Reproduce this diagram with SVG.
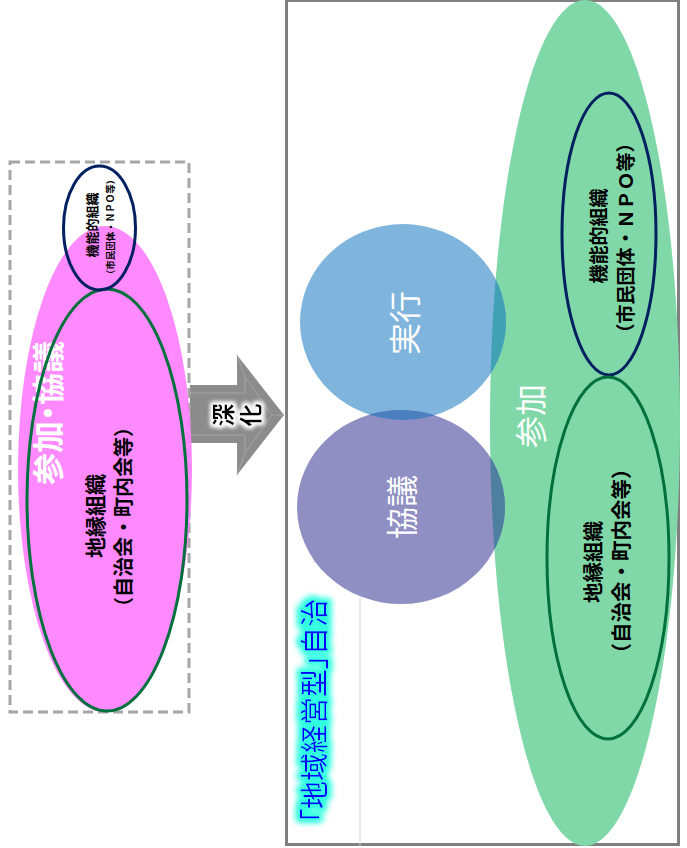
<svg xmlns="http://www.w3.org/2000/svg" width="687" height="848" viewBox="0 0 687 848">
<style>
text{font-family:"Noto Sans CJK JP","Noto Sans CJK SC",sans-serif;text-anchor:middle;dominant-baseline:central}
.b{font-weight:700;fill:#000}
.w{fill:#fff}
.p{font-feature-settings:"palt"}
</style>
<defs>
<filter id="glowW" x="-50%" y="-50%" width="200%" height="200%">
<feMorphology in="SourceAlpha" operator="dilate" radius="2" result="d"/>
<feGaussianBlur in="d" stdDeviation="2" result="bl"/>
<feFlood flood-color="#ffffff"/>
<feComposite in2="bl" operator="in" result="g"/>
<feMerge><feMergeNode in="g"/><feMergeNode in="g"/><feMergeNode in="SourceGraphic"/></feMerge>
</filter>
<filter id="glowC" x="-30%" y="-10%" width="160%" height="120%">
<feMorphology in="SourceAlpha" operator="dilate" radius="3" result="d"/>
<feGaussianBlur in="d" stdDeviation="3" result="bl"/>
<feFlood flood-color="#33ffe0"/>
<feComposite in2="bl" operator="in" result="g"/>
<feMerge><feMergeNode in="g"/><feMergeNode in="g"/><feMergeNode in="SourceGraphic"/></feMerge>
</filter>
<clipPath id="cGreen"><ellipse cx="585" cy="423" rx="95" ry="423"/></clipPath>
<clipPath id="cPurple"><ellipse cx="401" cy="507" rx="104" ry="97"/></clipPath>
</defs>

<!-- connectors -->
<g id="connectors">
<g id="arrow">
<polygon points="190,385 237,385 237,355 284,415 237,475 237,443 190,443" fill="#8c8c8c"/>
<polyline points="190,393 245,393 245,377 272,415 245,453 245,435 190,435" fill="none" stroke="#a4a4a4" stroke-width="1"/>
<line x1="237" y1="355" x2="245" y2="377" stroke="#a4a4a4" stroke-width="1"/>
<line x1="237" y1="475" x2="245" y2="453" stroke="#a4a4a4" stroke-width="1"/>
<line x1="284" y1="415" x2="272" y2="415" stroke="#a4a4a4" stroke-width="1"/>
<text class="b" font-size="23" filter="url(#glowW)" transform="translate(222,415) rotate(-90)">深</text>
<text class="b" font-size="23" filter="url(#glowW)" transform="translate(249,415) rotate(-90)">化</text>
</g>
</g>

<!-- left: before -->
<g id="left-group">
<rect x="10" y="162" width="179" height="550" fill="none" stroke="#a6a6a6" stroke-width="3" stroke-dasharray="10,5"/>
<ellipse cx="105" cy="469" rx="87" ry="243" fill="#ff80ff" fill-opacity="0.92"/>
<text class="w p" font-size="32" font-weight="700" transform="translate(46,413) rotate(-90)">参加・協議</text>
</g>
<g id="left-chien">
<ellipse cx="107" cy="500" rx="80" ry="211" fill="none" stroke="#00703c" stroke-width="3"/>
<text class="b" font-size="21" transform="translate(94,516) rotate(-90)">地縁組織</text>
<text class="b" font-size="20" transform="translate(122,517) rotate(-90)">（自治会・町内会等）</text>
</g>
<g id="left-kino">
<ellipse cx="99.5" cy="228" rx="36" ry="62" fill="none" stroke="#002060" stroke-width="3"/>
<text class="b" font-size="13" transform="translate(91,225) rotate(-90)">機能的組織</text>
<text class="b" font-size="9.5" transform="translate(110,227) rotate(-90)">（市民団体・ＮＰＯ等）</text>
</g>

<!-- right: after -->
<g id="right-frame">
<rect x="286.5" y="0.5" width="392" height="844" fill="none" stroke="#808080" stroke-width="3"/>
<path d="M313 562 H360 V846" fill="none" stroke="#d6d6e4" stroke-width="1"/>
<text class="p" font-size="28" fill="#0000ff" filter="url(#glowC)" transform="translate(313,711) rotate(-90)">「地域経営型」自治</text>
</g>
<g id="sanka">
<ellipse cx="585" cy="423" rx="95" ry="423" fill="#80d8a8"/>
<text class="w" font-size="32" transform="translate(529,416) rotate(-90)">参加</text>
</g>
<g id="jikko">
<ellipse cx="403" cy="322" rx="103" ry="98" fill="#7fb4dc"/>
</g>
<g id="kyogi">
<ellipse cx="401" cy="507" rx="104" ry="97" fill="#8f8fc3"/>
</g>
<g id="overlaps">
<ellipse cx="403" cy="322" rx="103" ry="98" fill="#40a0b4" clip-path="url(#cGreen)"/>
<ellipse cx="401" cy="507" rx="104" ry="97" fill="#4f7f9f" clip-path="url(#cGreen)"/>
<ellipse cx="403" cy="322" rx="103" ry="98" fill="#4a80c0" clip-path="url(#cPurple)"/>
</g>
<g id="labels-circles">
<text class="w" font-size="32" transform="translate(403,323) rotate(-90)">実行</text>
<text class="w" font-size="32" transform="translate(400,507) rotate(-90)">協議</text>
</g>
<g id="right-kino">
<ellipse cx="609" cy="234" rx="47" ry="141" fill="none" stroke="#002060" stroke-width="3"/>
<text class="b" font-size="19" transform="translate(597,236) rotate(-90)">機能的組織</text>
<text class="b" font-size="19" transform="translate(624,238) rotate(-90)">（市民団体・ＮＰＯ等）</text>
</g>
<g id="right-chien">
<ellipse cx="608" cy="558" rx="61" ry="181" fill="none" stroke="#00703c" stroke-width="3"/>
<text class="b" font-size="20.5" transform="translate(592,562) rotate(-90)">地縁組織</text>
<text class="b" font-size="20.5" transform="translate(620,561) rotate(-90)">（自治会・町内会等）</text>
</g>
</svg>
